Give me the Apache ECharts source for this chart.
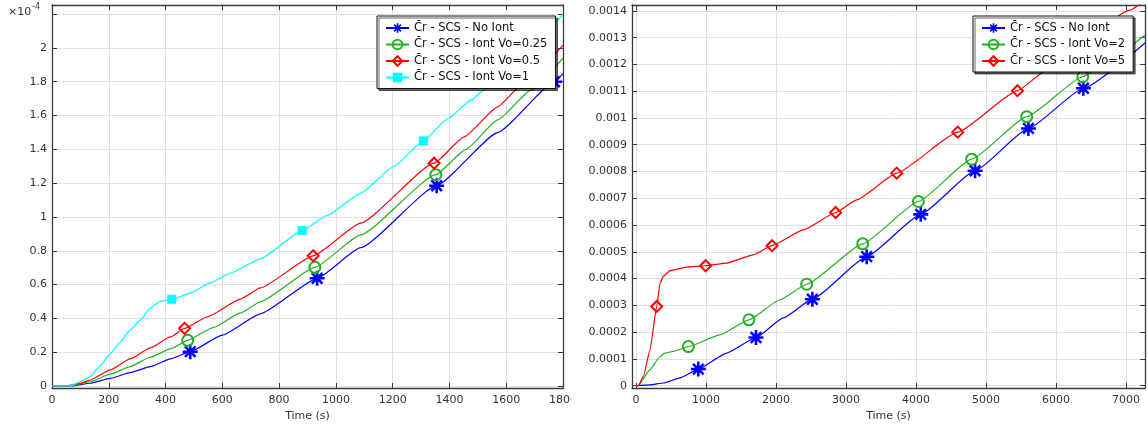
<!DOCTYPE html>
<html>
<head>
<meta charset="utf-8">
<script src="https://cdn.jsdelivr.net/npm/echarts@6/dist/echarts.min.js"></script>
<style>
  html, body { margin: 0; padding: 0; background: #fff; }
  #chart { width: 1148px; height: 431px; }
</style>
</head>
<body>
<div id="chart"></div>
<script>
// left plot: time (s), concentration in units of 1e-4
var leftNoIontT = [0, 70, 134, 205, 275, 346, 417, 600, 734, 1087, 1570, 1800];
var leftNoIontV = [0, 0, 0.016, 0.045, 0.079, 0.114, 0.16, 0.301, 0.427, 0.818, 1.499, 1.848];
var leftNoIontMarkT = [487, 934, 1355, 1770];
var leftNoIontMarkV = [0.203, 0.637, 1.185, 1.80];

var leftVo025T = [0, 64, 134, 205, 275, 346, 417, 569, 664, 734, 1087, 1458, 1570, 1687, 1800];
var leftVo025V = [0, 0, 0.025, 0.07, 0.115, 0.17, 0.219, 0.347, 0.432, 0.498, 0.894, 1.40, 1.574, 1.75, 1.94];
var leftVo025MarkT = [478, 926, 1352];
var leftVo025MarkV = [0.27, 0.702, 1.25];

var leftVo05T = [0, 52, 99, 134, 205, 275, 346, 417, 546, 664, 734, 1087, 1452, 1570, 1652, 1800];
var leftVo05V = [0, 0, 0.016, 0.035, 0.095, 0.16, 0.225, 0.29, 0.408, 0.514, 0.58, 0.964, 1.474, 1.651, 1.778, 2.015];
var leftVo05MarkT = [467, 920, 1346];
var leftVo05MarkV = [0.341, 0.77, 1.318];

var leftVo1T = [0, 64, 99, 134, 169, 205, 240, 275, 311, 346, 381, 487, 558, 628, 734, 970, 1087, 1205, 1393, 1475, 1522, 1600, 1700, 1800];
var leftVo1V = [0, 0, 0.025, 0.055, 0.118, 0.19, 0.26, 0.33, 0.39, 0.46, 0.50, 0.549, 0.61, 0.667, 0.752, 1.01, 1.14, 1.30, 1.58, 1.69, 1.75, 1.87, 2.03, 2.20];
var leftVo1MarkT = [422, 881, 1308];
var leftVo1MarkV = [0.513, 0.919, 1.45];

// right plot: time (s), concentration in units of 1e-3
var rightNoIontT = [0, 200, 390, 629, 1295, 2105, 7270];
var rightNoIontV = [0, 0.003, 0.01, 0.029, 0.122, 0.253, 1.28];
var rightNoIontMarkT = [890, 1714, 2519, 3295, 4067, 4843, 5605, 6390];
var rightNoIontMarkV = [0.062, 0.18, 0.323, 0.482, 0.64, 0.803, 0.961, 1.111];

var rightVo2T = [0, 33, 200, 343, 414, 533, 1200, 2057, 6819, 7270];
var rightVo2V = [0, 0, 0.06, 0.109, 0.122, 0.128, 0.19, 0.321, 1.229, 1.31];
var rightVo2MarkT = [748, 1614, 2438, 3238, 4033, 4795, 5581, 6381];
var rightVo2MarkV = [0.146, 0.246, 0.379, 0.53, 0.688, 0.846, 1.005, 1.154];

var rightVo5T = [0, 33, 105, 200, 343, 390, 486, 724, 1295, 1676, 2390, 3152, 5867, 7057, 7270];
var rightVo5V = [0, 0, 0.035, 0.134, 0.383, 0.408, 0.43, 0.443, 0.458, 0.489, 0.582, 0.694, 1.179, 1.403, 1.44];
var rightVo5MarkT = [296, 995, 1943, 2852, 3724, 4595, 5448];
var rightVo5MarkV = [0.296, 0.448, 0.523, 0.647, 0.794, 0.947, 1.102];

var leftNames = ['C\u0304r - SCS - No Iont', 'C\u0304r - SCS - Iont Vo=0.25', 'C\u0304r - SCS - Iont Vo=0.5', 'C\u0304r - SCS - Iont Vo=1'];
var rightNames = ['C\u0304r - SCS - No Iont', 'C\u0304r - SCS - Iont Vo=2', 'C\u0304r - SCS - Iont Vo=5'];

var FONT = 'DejaVu Sans';
var AXIS_COLOR = '#3a3a3a';
// eight-armed asterisk
var STAR = 'path://M-1 -0.17L1 -0.17L1 0.17L-1 0.17Z M-0.17 -1L0.17 -1L0.17 1L-0.17 1Z ' +
    'M-0.587 -0.827L0.827 0.587L0.587 0.827L-0.827 -0.587Z M-0.827 0.587L0.587 -0.827L0.827 -0.587L-0.587 0.827Z';

function buildData(ts, vs, markTs, markVs, scale) {
    var pts = [];
    for (var i = 0; i < ts.length; i++) {
        pts.push({ value: [ts[i], vs[i] * scale], symbol: 'none' });
    }
    for (var j = 0; j < markTs.length; j++) {
        pts.push({ value: [markTs[j], markVs[j] * scale] });
    }
    pts.sort(function (a, b) { return a.value[0] - b.value[0]; });
    return pts;
}

function lineSeries(name, axisIdx, data, color, symbol, size, hollow) {
    return {
        type: 'line',
        name: name,
        xAxisIndex: axisIdx,
        yAxisIndex: axisIdx,
        data: data,
        symbol: symbol,
        symbolSize: size,
        smooth: 0.15,
        smoothMonotone: 'x',
        lineStyle: { color: color, width: 1.2 },
        itemStyle: hollow ? { color: 'rgba(0,0,0,0)', borderColor: color, borderWidth: 2 } : { color: color },
        emphasis: { disabled: true }
    };
}

function plainNum(v) { return String(v); }

function mainX(grid, min, max, extra) {
    var ax = {
        gridIndex: grid, type: 'value', position: 'bottom', min: min, max: max,
        axisLine: { show: true, onZero: false, lineStyle: { color: AXIS_COLOR, width: 1.3 } },
        axisTick: { inside: true, length: 5, lineStyle: { color: AXIS_COLOR } },
        axisLabel: { margin: 7, fontSize: 11, color: '#333', fontFamily: FONT, formatter: plainNum },
        splitLine: { show: true, lineStyle: { color: '#e0e0e0' } },
        name: 'Time (s)', nameLocation: 'middle', nameGap: 22,
        nameTextStyle: { fontSize: 11, color: '#333', fontFamily: FONT }
    };
    return Object.assign(ax, extra);
}
function sideX(grid, min, max, extra) {
    var ax = {
        gridIndex: grid, type: 'value', position: 'top', min: min, max: max,
        axisLine: { show: true, onZero: false, lineStyle: { color: AXIS_COLOR, width: 1.3 } },
        axisTick: { inside: true, length: 5, lineStyle: { color: AXIS_COLOR } },
        axisLabel: { show: false }, splitLine: { show: false }
    };
    return Object.assign(ax, extra);
}
function mainY(grid, min, max, split, fmt) {
    return {
        gridIndex: grid, type: 'value', position: 'left', min: min, max: max, splitNumber: split,
        axisLine: { show: true, onZero: false, lineStyle: { color: AXIS_COLOR, width: 1.3 } },
        axisTick: { inside: true, length: 5, lineStyle: { color: AXIS_COLOR } },
        axisLabel: { margin: 5, fontSize: 11, color: '#333', fontFamily: FONT,
            showMinLabel: false, showMaxLabel: false, formatter: fmt },
        splitLine: { show: true, lineStyle: { color: '#e0e0e0' } }
    };
}
function sideY(grid, min, max, split) {
    return {
        gridIndex: grid, type: 'value', position: 'right', min: min, max: max, splitNumber: split,
        axisLine: { show: true, onZero: false, lineStyle: { color: AXIS_COLOR, width: 1.3 } },
        axisTick: { inside: true, length: 5, lineStyle: { color: AXIS_COLOR } },
        axisLabel: { show: false }, splitLine: { show: false }
    };
}

function legendAt(names, left) {
    return {
        data: names, orient: 'vertical', left: left, top: 16,
        padding: [6, 8, 5, 8], itemGap: 4.5, itemWidth: 23, itemHeight: 12,
        backgroundColor: '#fff', borderColor: '#111', borderWidth: 1,
        shadowColor: 'rgba(0,0,0,0.6)', shadowOffsetX: 2, shadowOffsetY: 2, shadowBlur: 0,
        selectedMode: false,
        textStyle: { fontSize: 11.5, lineHeight: 12, color: '#111', fontFamily: FONT }
    };
}

var chart = echarts.init(document.getElementById('chart'));
chart.setOption({
    animation: false,
    backgroundColor: '#fff',
    grid: [
        { left: 52, right: 585, top: 5, bottom: 43 },
        { left: 632, right: 3, top: 5, bottom: 43 }
    ],
    xAxis: [
        mainX(0, 0, 1800, { interval: 200 }),
        sideX(0, 0, 1800, { interval: 200 }),
        mainX(1, -57, 7270, { splitNumber: 7, axisLabel: { margin: 7, fontSize: 11, color: '#333', fontFamily: FONT, formatter: plainNum, showMinLabel: false, showMaxLabel: false } }),
        sideX(1, -57, 7270, { splitNumber: 7 })
    ],
    yAxis: [
        // the 2.2 grid line has no label in the original
        mainY(0, -0.012, 2.254, 11, function (v) { return v > 2.1 ? '' : String(+v.toFixed(1)); }),
        sideY(0, -0.012, 2.254, 11),
        mainY(1, -0.0000086, 0.001422, 14, function (v) { return String(+v.toFixed(4)); }),
        sideY(1, -0.0000086, 0.001422, 14)
    ],
    legend: [legendAt(leftNames, 377), legendAt(rightNames, 973)],
    graphic: [
        { type: 'text', left: 8, top: 7, style: { text: '\u00d710', fontSize: 11, fill: '#333', fontFamily: FONT } },
        { type: 'text', left: 32, top: 3, style: { text: '-4', fontSize: 8, fill: '#333', fontFamily: FONT } },
        { type: 'rect', z: 100, shape: { x: 571, y: 393, width: 14, height: 16 }, style: { fill: '#fff' } }
    ],
    series: [
        lineSeries(leftNames[0], 0, buildData(leftNoIontT, leftNoIontV, leftNoIontMarkT, leftNoIontMarkV, 1), '#0000ff', STAR, 15, false),
        lineSeries(leftNames[1], 0, buildData(leftVo025T, leftVo025V, leftVo025MarkT, leftVo025MarkV, 1), '#22b022', 'circle', 11, true),
        lineSeries(leftNames[2], 0, buildData(leftVo05T, leftVo05V, leftVo05MarkT, leftVo05MarkV, 1), '#ff0000', 'diamond', 11, true),
        lineSeries(leftNames[3], 0, buildData(leftVo1T, leftVo1V, leftVo1MarkT, leftVo1MarkV, 1), '#00ffff', 'rect', 9, false),
        lineSeries(rightNames[0], 2, buildData(rightNoIontT, rightNoIontV, rightNoIontMarkT, rightNoIontMarkV, 1e-3), '#0000ff', STAR, 15, false),
        lineSeries(rightNames[1], 2, buildData(rightVo2T, rightVo2V, rightVo2MarkT, rightVo2MarkV, 1e-3), '#22b022', 'circle', 11, true),
        lineSeries(rightNames[2], 2, buildData(rightVo5T, rightVo5V, rightVo5MarkT, rightVo5MarkV, 1e-3), '#ff0000', 'diamond', 11, true)
    ]
});
</script>
</body>
</html>
